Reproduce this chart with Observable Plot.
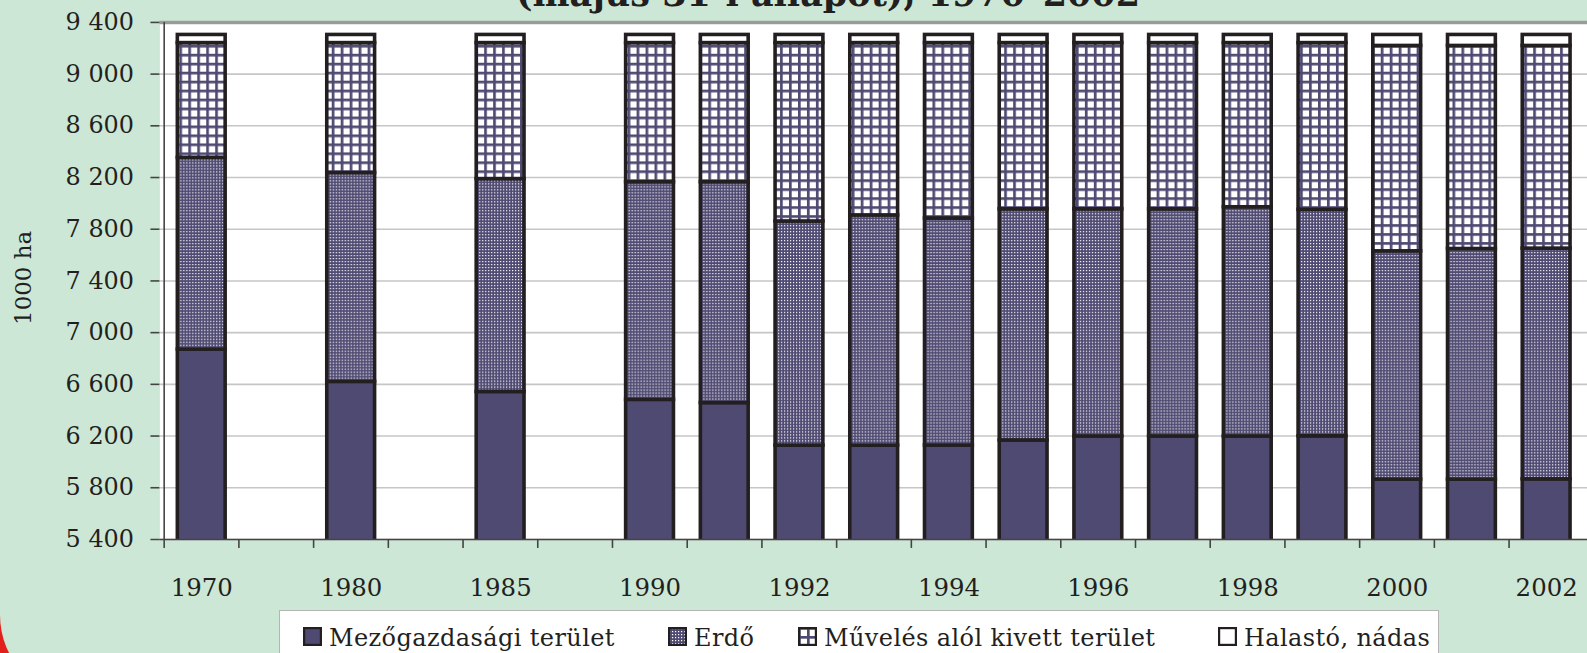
<!DOCTYPE html>
<html>
<head>
<meta charset="utf-8">
<script src="https://cdn.jsdelivr.net/npm/d3@7"></script>
<script src="https://cdn.jsdelivr.net/npm/@observablehq/plot@0.6"></script>
<style>
  html, body { margin: 0; padding: 0; width: 1587px; height: 653px; overflow: hidden; background: #e2211c; }
  #panel { position: absolute; left: 0; top: 0; width: 1587px; height: 700px; background: #cce7d6;
           border-bottom-left-radius: 85px; overflow: hidden; font-family: "DejaVu Serif", serif; color: #231f20; }
  #title { position: absolute; left: 828px; top: -23px; transform: translateX(-50%); white-space: nowrap;
           font-weight: bold; font-size: 35px; line-height: 34px; }
  #chart { position: absolute; left: 0; top: 0; }
  #legend { position: absolute; left: 279px; top: 610px; width: 1160px; height: 80px; background: #fff;
            border: 1px solid #b5b5b5; box-sizing: border-box; }
  .item { position: absolute; top: 15px; font-size: 24px; line-height: 24px; white-space: nowrap; letter-spacing: 0.4px; }
  .item svg { display: inline-block; vertical-align: baseline; margin-right: 7px; }
</style>
</head>
<body>
<div id="panel">
  <div id="title">(május 31-i állapot), 1970–2002</div>
  <div id="chart"></div>
  <div id="legend"></div>
</div>
<script>
// x slots (blank slots g1..g3 keep the gaps between 1970, 1980, 1985 and 1990)
const slotOrder = ["1970", "g1", "1980", "g2", "1985", "g3", "1990", "1991", "1992", "1993", "1994", "1995",
                   "1996", "1997", "1998", "1999", "2000", "2001", "2002"];
const barYears = ["1970", "1980", "1985", "1990", "1991", "1992", "1993", "1994", "1995", "1996",
                  "1997", "1998", "1999", "2000", "2001", "2002"];
const xLabels = ["1970", "1980", "1985", "1990", "1992", "1994", "1996", "1998", "2000", "2002"];
const yTicks = [5400, 5800, 6200, 6600, 7000, 7400, 7800, 8200, 8600, 9000, 9400];

const series = ["Mezőgazdasági terület", "Erdő", "Művelés alól kivett terület", "Halastó, nádas"];

// 1000 ha
const mezogazdasagi = [6869, 6619, 6541, 6480, 6455, 6126, 6126, 6127, 6166, 6197, 6197, 6197, 6198, 5863, 5863, 5865];
const erdo          = [1483, 1616, 1647, 1684, 1709, 1734, 1781, 1756, 1788, 1757, 1757, 1773, 1752, 1766, 1784, 1785];
const muveles       = [ 888, 1005, 1052, 1076, 1076, 1380, 1333, 1357, 1286, 1286, 1286, 1270, 1290, 1589, 1571, 1568];
const halasto       = [  63,   63,   63,   63,   63,   63,   63,   63,   63,   63,   63,   63,   63,   85,   85,   85];

const seriesValues = [mezogazdasagi, erdo, muveles, halasto];
const fills = ["#4f4a72", "url(#p-erdo)", "url(#p-muv)", "#ffffff"];

const table = barYears.flatMap((yr, i) =>
  series.map((s, j) => ({year: yr, series: s, value: seriesValues[j][i]})));

const W = 1593, H = 600, ML = 160, MR = 0, MT = 22, MB = 59;
const step = (W - ML - MR) / slotOrder.length;

const chart = Plot.plot({
  width: W, height: H,
  marginLeft: ML, marginRight: MR, marginTop: MT, marginBottom: MB,
  style: {background: "transparent", fontFamily: "DejaVu Serif", fontSize: "24px", color: "#231f20", overflow: "visible"},
  x: {type: "band", domain: slotOrder, paddingInner: 0.36, paddingOuter: 0.18, label: null},
  y: {domain: [5400, 9400], label: null},
  color: {domain: series, range: fills},
  marks: [
    Plot.frame({fill: "#ffffff", stroke: null}),
    Plot.gridY(yTicks, {stroke: "#c6c6c6", strokeOpacity: 1, strokeWidth: 1.6}),
    Plot.ruleY([9400], {stroke: "#9a9a9a", strokeWidth: 3.5}),
    Plot.barY(table, {x: "year", y: "value", fill: "series", stroke: "#231f20", strokeWidth: 3.6, clip: true, inset: 0}),
    Plot.ruleY([5400], {stroke: "#444", strokeWidth: 1.6}),
    Plot.ruleX([slotOrder[0]], {dx: -step / 2, stroke: "#444", strokeWidth: 1.6}),
    Plot.axisY({ticks: yTicks, tickSize: 9, tickPadding: 17, stroke: "#444", strokeWidth: 1.6,
                tickFormat: d => d3.format(",")(d).replace(",", " "), label: null, fill: "#231f20"}),
    Plot.axisX({tickSize: 9, tickFormat: () => "", dx: -step / 2, stroke: "#444", strokeWidth: 1.6, label: null}),
    Plot.axisX({ticks: xLabels, tickSize: 0, tickPadding: 39, label: null, fill: "#231f20", fontSize: 24.5}),
    Plot.text(["1000 ha"], {frameAnchor: "left", textAnchor: "middle", dx: -137, dy: -3, rotate: -90,
                            fontSize: 23, fill: "#231f20"})
  ]
});

d3.select(chart).insert("defs", ":first-child").html(`
  <pattern id="p-erdo" width="3" height="3" patternUnits="userSpaceOnUse">
    <rect width="3" height="3" fill="#4f4a72"></rect>
    <rect x="1" y="1" width="1.2" height="1.2" fill="#ffffff"></rect>
  </pattern>
  <pattern id="p-muv" width="9" height="9" patternUnits="userSpaceOnUse">
    <rect width="9" height="9" fill="#ffffff"></rect>
    <rect width="9" height="2.7" fill="#4f4a72"></rect>
    <rect width="2.7" height="9" fill="#4f4a72"></rect>
  </pattern>`);

document.getElementById("chart").appendChild(chart);

// legend
const legendLeft = [23, 388, 518, 938];
const legend = document.getElementById("legend");
series.forEach((s, i) => {
  const item = document.createElement("div");
  item.className = "item";
  item.style.left = legendLeft[i] + "px";
  item.innerHTML = `<svg width="19" height="19"><rect x="1.1" y="1.1" width="16.8" height="16.8" fill="${fills[i]}" stroke="#231f20" stroke-width="2.2"></rect></svg>`;
  item.appendChild(document.createTextNode(s));
  legend.appendChild(item);
});
</script>
</body>
</html>
